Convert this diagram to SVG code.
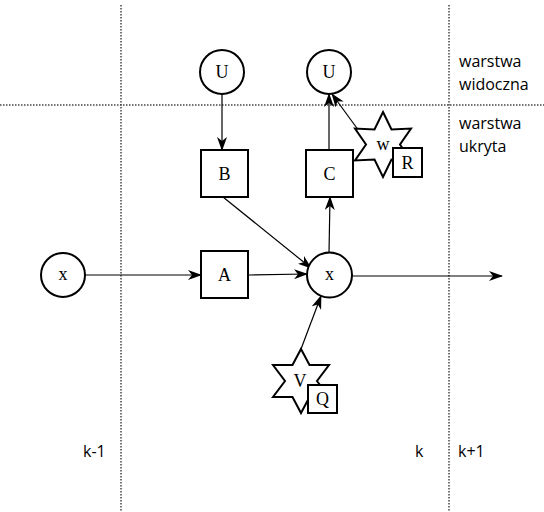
<svg xmlns="http://www.w3.org/2000/svg" width="544" height="512" viewBox="0 0 544 512">
<defs>
<marker id="arr" markerWidth="14" markerHeight="10" refX="13" refY="5" orient="auto" markerUnits="userSpaceOnUse">
<path d="M0,0 L14,5 L0,10 L4,5 z" fill="#000"/>
</marker>
</defs>
<style>
.node{fill:#fff;stroke:#000;stroke-width:2}
.lbl{font-family:"Liberation Serif","DejaVu Serif",serif;font-size:18px;text-anchor:middle;fill:#000}
.side{font-family:"Open Sans","Noto Sans",sans-serif;font-size:16px;fill:#000}
.dot{stroke:#444;stroke-width:1.5;stroke-dasharray:1.5,1.5;fill:none}
.edge{stroke:#000;stroke-width:1.2;fill:none;marker-end:url(#arr)}
</style>
<rect width="544" height="512" fill="#fff"/>
<g id="grid">
<line class="dot" x1="121" y1="5" x2="121" y2="512"/>
<line class="dot" x1="449" y1="5" x2="449" y2="512"/>
<line class="dot" x1="0" y1="105" x2="544" y2="105"/>
</g>
<g id="labels">
<text class="side" x="459" y="67">warstwa</text>
<text class="side" x="459" y="90">widoczna</text>
<text class="side" x="459" y="129">warstwa</text>
<text class="side" x="459" y="152">ukryta</text>
<text class="side" x="83" y="457">k-1</text>
<text class="side" x="415" y="457">k</text>
<text class="side" x="458" y="457">k+1</text>
</g>
<g id="connectors">
<line class="edge" x1="222" y1="94" x2="222" y2="150"/>
<line class="edge" x1="329" y1="150" x2="329" y2="94"/>
<line class="edge" x1="359" y1="131" x2="332" y2="94"/>
<line class="edge" x1="223" y1="197" x2="311" y2="268"/>
<line class="edge" x1="249" y1="275" x2="307" y2="274"/>
<line class="edge" x1="329" y1="253" x2="330" y2="197"/>
<line class="edge" x1="301" y1="349" x2="321" y2="296"/>
<line class="edge" x1="85" y1="275" x2="201" y2="275"/>
<line class="edge" x1="352" y1="276" x2="502" y2="276"/>
</g>
<g id="U1"><circle class="node" cx="222" cy="72" r="22"/><text class="lbl" x="222" y="78">U</text></g>
<g id="U2"><circle class="node" cx="329" cy="72" r="22"/><text class="lbl" x="329" y="78">U</text></g>
<g id="B"><rect class="node" x="201" y="150" width="47" height="47"/><text class="lbl" x="224.5" y="180">B</text></g>
<g id="C"><rect class="node" x="306" y="150" width="47" height="47"/><text class="lbl" x="329.5" y="180">C</text></g>
<g id="A"><rect class="node" x="201" y="251" width="47" height="47"/><text class="lbl" x="224.5" y="281">A</text></g>
<g id="x0"><circle class="node" cx="63" cy="275" r="22"/><text class="lbl" x="63" y="280">x</text></g>
<g id="x1"><circle class="node" cx="329.5" cy="275" r="22.5"/><text class="lbl" x="329.5" y="280">x</text></g>
<g id="W">
<polygon class="node" points="383,112 391.5,129.5 411,128.5 400,144.5 411,160.5 391.5,159.5 383,177 374.5,159.5 355,160.5 366,144.5 355,128.5 374.5,129.5"/>
<text class="lbl" x="383" y="150">w</text>
<rect class="node" x="393" y="148" width="29" height="29"/><text class="lbl" x="407.5" y="169">R</text>
</g>
<g id="V">
<polygon class="node" points="301,349 309.5,365 329,365 317,381 329,397 309.5,397 301,413 292.5,397 273,397 285,381 273,365 292.5,365"/>
<text class="lbl" x="300" y="387">V</text>
<rect class="node" x="308" y="385" width="29" height="28"/><text class="lbl" x="322.5" y="405">Q</text>
</g>
</svg>
